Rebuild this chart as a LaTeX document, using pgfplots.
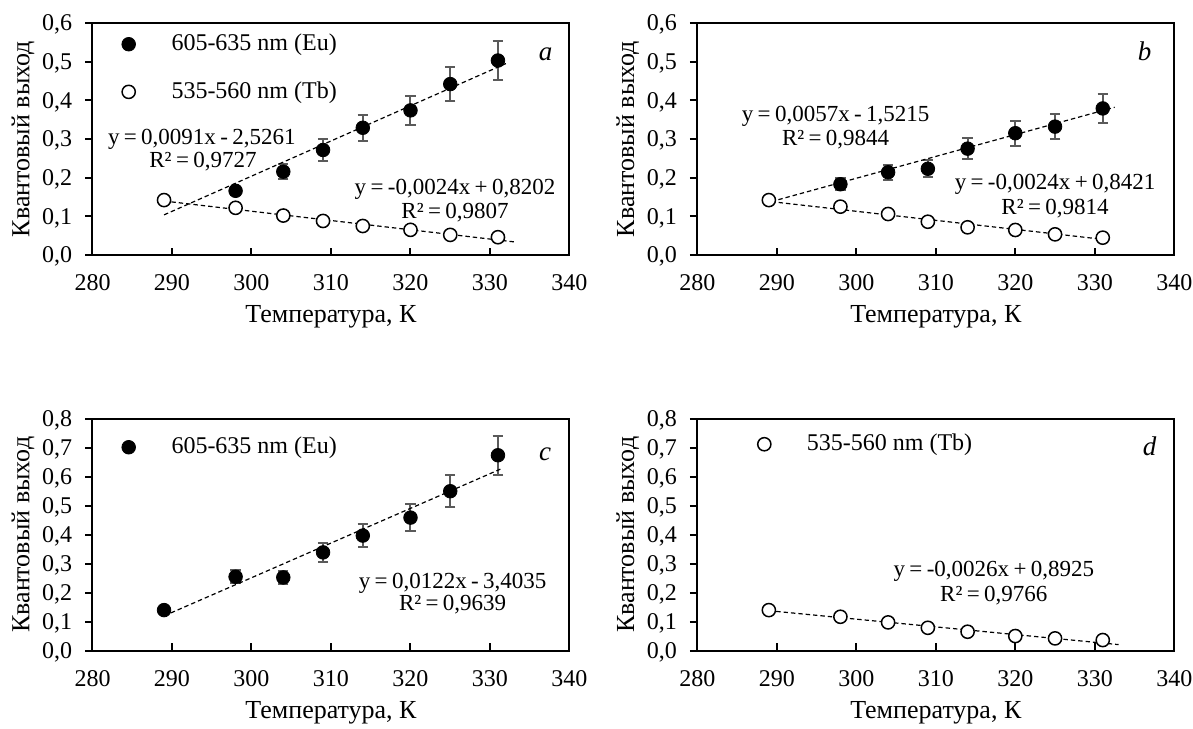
\documentclass[border=0pt]{standalone}
\usepackage{fontspec}
\setmainfont{Liberation Serif}
\usepackage{pgfplots}
\usepackage{pgfplotstable}
\pgfplotsset{compat=1.18}
\definecolor{errgray}{RGB}{90,90,90}

% Panel a
\pgfplotstableread{
x y e
298 0.166 0.010
304 0.2155 0.020
309 0.2716 0.028
314 0.329 0.033
320 0.374 0.038
325 0.442 0.044
331 0.503 0.050
}\euA
\pgfplotstableread{
x y
289 0.142
298 0.122
304 0.102
309 0.088
314 0.075
320 0.065
325 0.052
331 0.046
}\tbA
% Panel b
\pgfplotstableread{
x y e
298 0.183 0.016
304 0.214 0.020
309 0.223 0.022
314 0.275 0.028
320 0.315 0.032
325 0.332 0.033
331 0.379 0.038
}\euB
\pgfplotstableread{
x y
289 0.142
298 0.125
304 0.106
309 0.086
314 0.0716
320 0.0647
325 0.0534
331 0.0448
}\tbB
% Panel c
\pgfplotstableread{
x y e
289 0.140 0.000
298 0.255 0.023
304 0.2526 0.023
309 0.339 0.034
314 0.397 0.040
320 0.459 0.046
325 0.550 0.055
331 0.674 0.067
}\euC
% Panel d
\pgfplotstableread{
x y
289 0.140
298 0.117
304 0.0976
309 0.079
314 0.0654
320 0.0505
325 0.0425
331 0.0367
}\tbD

\newcommand{\eqfont}{\fontsize{11.5}{13.8}\selectfont\spaceskip=0.19em plus 0pt minus 0pt\relax}
\newcommand{\titlefont}{\fontsize{13}{15.6}\selectfont}
\newcommand{\letterfont}{\fontsize{13.5}{16}\selectfont\itshape}

\tikzset{eq/.style={anchor=base, font=\eqfont, inner sep=0pt},
  letter/.style={anchor=base, font=\letterfont, inner sep=0pt}}

\pgfplotsset{
  panel/.style={
    scale only axis, width=238.5pt, height=116pt,
    anchor=south west,
    xmin=280, xmax=340, ymin=0,
    xtick={280,290,...,340},
    axis line style={line width=1pt},
    tick style={line width=1pt, black},
    major tick length=3.7pt,
    tick pos=left,
    tick align=inside,
    ytick style={xshift=-3.7pt},
    /pgf/number format/assume math mode=true,
    yticklabel style={anchor=east, inner sep=0pt, xshift=-10pt, text depth=0pt,
      /pgf/number format/.cd, fixed, fixed zerofill, precision=1, use comma},
    xticklabel style={anchor=center, inner sep=0pt, yshift=-13.75pt, text depth=0pt,
      /pgf/number format/.cd, set thousands separator={}},
    xlabel={Температура, К},
    ylabel={Квантовый выход},
    xlabel style={at={(axis description cs:0.5,-0.2672)}, anchor=center, font=\titlefont},
    ylabel style={at={(axis description cs:-0.1457,0.5)}, anchor=center, font=\titlefont},
    legend style={draw=none, fill=none, anchor=north west, inner sep=0pt,
      row sep=9.7pt, column sep=16pt},
    legend cell align=left,
  },
  eumark/.style={only marks, mark=*, mark size=3.4pt, mark options={fill=black, draw=black}},
  tbmark/.style={only marks, mark=*, mark size=3.3pt, mark options={fill=white, draw=black, line width=0.75pt}},
  errs/.style={forget plot, only marks, mark=none,
    error bars/.cd, y dir=both, y explicit,
    error bar style={errgray, line width=1pt, solid},
    error mark options={errgray, rotate=90, mark size=2.6pt, line width=1pt}},
  trend/.style={forget plot, black, line width=0.6pt, dash pattern=on 2.2pt off 1.5pt},
}

\begin{document}
\fontsize{12}{14.4}\selectfont
\begin{tikzpicture}
\path[use as bounding box] (0,0) rectangle (596.5pt,364pt);

% ---------- a ----------
\begin{axis}[panel, at={(46.25pt,236.5pt)}, ymax=0.6, ytick={0,0.1,...,0.6},
  legend style={at={(axis description cs:0,1)}, xshift=14.5pt, yshift=-3.35pt}]
\addplot[errs] table[x=x, y=y, y error=e] {\euA};
\addplot[eumark] table[x=x, y=y] {\euA};
\addlegendentry{605-635 nm (Eu)}
\addplot[tbmark] table[x=x, y=y] {\tbA};
\addlegendentry{535-560 nm (Tb)}
\addplot[trend] coordinates {(289,0.1038) (332,0.4951)};
\addplot[trend] coordinates {(289,0.1396) (333,0.0340)};
\node[eq] at (axis cs:293.75,0.285) {y = 0,0091x - 2,5261};
\node[eq] at (axis cs:293.9,0.225) {R² = 0,9727};
\node[eq] at (axis cs:325.6,0.1577) {y = -0,0024x + 0,8202};
\node[eq] at (axis cs:325.6,0.0931) {R² = 0,9807};
\node[letter] at (rel axis cs:0.9497,0.8405) {a};
\end{axis}

% ---------- b ----------
\begin{axis}[panel, at={(348.65pt,236.5pt)}, ymax=0.6, ytick={0,0.1,...,0.6}]
\addplot[errs] table[x=x, y=y, y error=e] {\euB};
\addplot[eumark] table[x=x, y=y] {\euB};
\addplot[tbmark] table[x=x, y=y] {\tbB};
\addplot[trend] coordinates {(289.3,0.138) (332.5,0.382)};
\addplot[trend] coordinates {(289.3,0.138) (331,0.0405)};
\node[eq] at (axis cs:297.4,0.3457) {y = 0,0057x - 1,5215};
\node[eq] at (axis cs:297.4,0.2837) {R² = 0,9844};
\node[eq] at (axis cs:325.0,0.1689) {y = -0,0024x + 0,8421};
\node[eq] at (axis cs:325.0,0.106) {R² = 0,9814};
\node[letter] at (rel axis cs:0.938,0.8405) {b};
\end{axis}

% ---------- c ----------
\begin{axis}[panel, at={(46.25pt,38.65pt)}, ymax=0.8, ytick={0,0.1,...,0.8},
  legend style={at={(axis description cs:0,1)}, xshift=14.5pt, yshift=-7pt}]
\addplot[errs] table[x=x, y=y, y error=e] {\euC};
\addplot[eumark] table[x=x, y=y] {\euC};
\addlegendentry{605-635 nm (Eu)}
\addplot[trend] coordinates {(289,0.120) (331.3,0.626)};
\node[eq] at (axis cs:325.3,0.2158) {y = 0,0122x - 3,4035};
\node[eq] at (axis cs:325.3,0.1377) {R² = 0,9639};
\node[letter] at (rel axis cs:0.949,0.820) {c};
\end{axis}

% ---------- d ----------
\begin{axis}[panel, at={(348.65pt,38.65pt)}, ymax=0.8, ytick={0,0.1,...,0.8},
  legend style={at={(axis description cs:0,1)}, xshift=30pt, yshift=-5.5pt}]
\addplot[tbmark] table[x=x, y=y] {\tbD};
\addlegendentry{535-560 nm (Tb)}
\addplot[trend] coordinates {(289,0.138) (333,0.021)};
\node[eq] at (axis cs:317.3,0.256) {y = -0,0026x + 0,8925};
\node[eq] at (axis cs:317.3,0.170) {R² = 0,9766};
\node[letter] at (rel axis cs:0.948,0.8405) {d};
\end{axis}
\end{tikzpicture}
\end{document}
